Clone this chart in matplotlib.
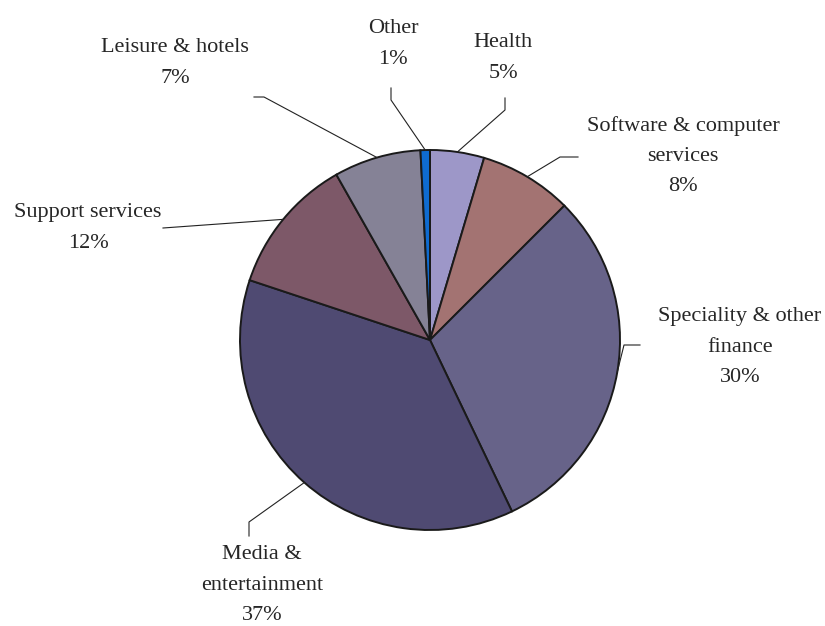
import numpy as np
import matplotlib
matplotlib.use("Agg")
import matplotlib.pyplot as plt

# ---- data ----
categories = ["Health", "Software & computer\nservices", "Speciality & other\nfinance",
              "Media &\nentertainment", "Support services", "Leisure & hotels", "Other"]
values = [4.6, 7.9, 30.4, 37.2, 11.7, 7.4, 0.8]
colors = ["#9D97C8", "#A37372", "#676389", "#4F4A72", "#7D5868", "#858296", "#0F6BD0"]

W, H = 825, 626
fig = plt.figure(figsize=(W / 100, H / 100), dpi=100)
ax = fig.add_axes([0, 0, 1, 1])
ax.set_xlim(0, W)
ax.set_ylim(0, H)
ax.axis("off")

def py(y):
    return H - y

cx, cy, R = 430, 340, 190
wedges, _ = ax.pie(values, colors=colors, startangle=90, counterclock=False,
                   center=(cx, py(cy)), radius=R,
                   wedgeprops=dict(edgecolor="#1a1a1a", linewidth=1.4))
ax.set_xlim(0, W)
ax.set_ylim(0, H)
ax.set_aspect("equal")

# label layout: (text center x, text center y, leader start, elbow) in pixels
layout = [
    dict(xy=(503, 58), start=(505, 98), elbow=(505, 110)),     # Health
    dict(xy=(683, 156), start=(578, 157), elbow=(560, 157)),   # Software
    dict(xy=(740, 347), start=(640, 345), elbow=(624, 345)),   # Speciality
    dict(xy=(262, 585), start=(249, 536), elbow=(249, 522)),   # Media
    dict(xy=(88, 228), start=(163, 228), elbow=(163, 228)),    # Support
    dict(xy=(175, 63), start=(254, 97), elbow=(264, 97)),      # Leisure
    dict(xy=(393, 44), start=(391, 88), elbow=(391, 100)),     # Other
]

font = dict(family="Liberation Serif", fontsize=16, color="#262626")
for w, cat, v, lay in zip(wedges, categories, values, layout):
    mid = np.deg2rad((w.theta1 + w.theta2) / 2)
    ex = cx + R * np.cos(mid)
    ey_data = py(cy) + R * np.sin(mid)
    txt = f"{cat}\n{round(v):d}%"
    ax.text(lay["xy"][0], py(lay["xy"][1]), txt, ha="center", va="center",
            linespacing=1.8, **font)
    xs = [lay["start"][0], lay["elbow"][0], ex]
    ys = [py(lay["start"][1]), py(lay["elbow"][1]), ey_data]
    ax.plot(xs, ys, color="#222222", lw=0.8)

fig.savefig("out.png", dpi=100, facecolor="white")
